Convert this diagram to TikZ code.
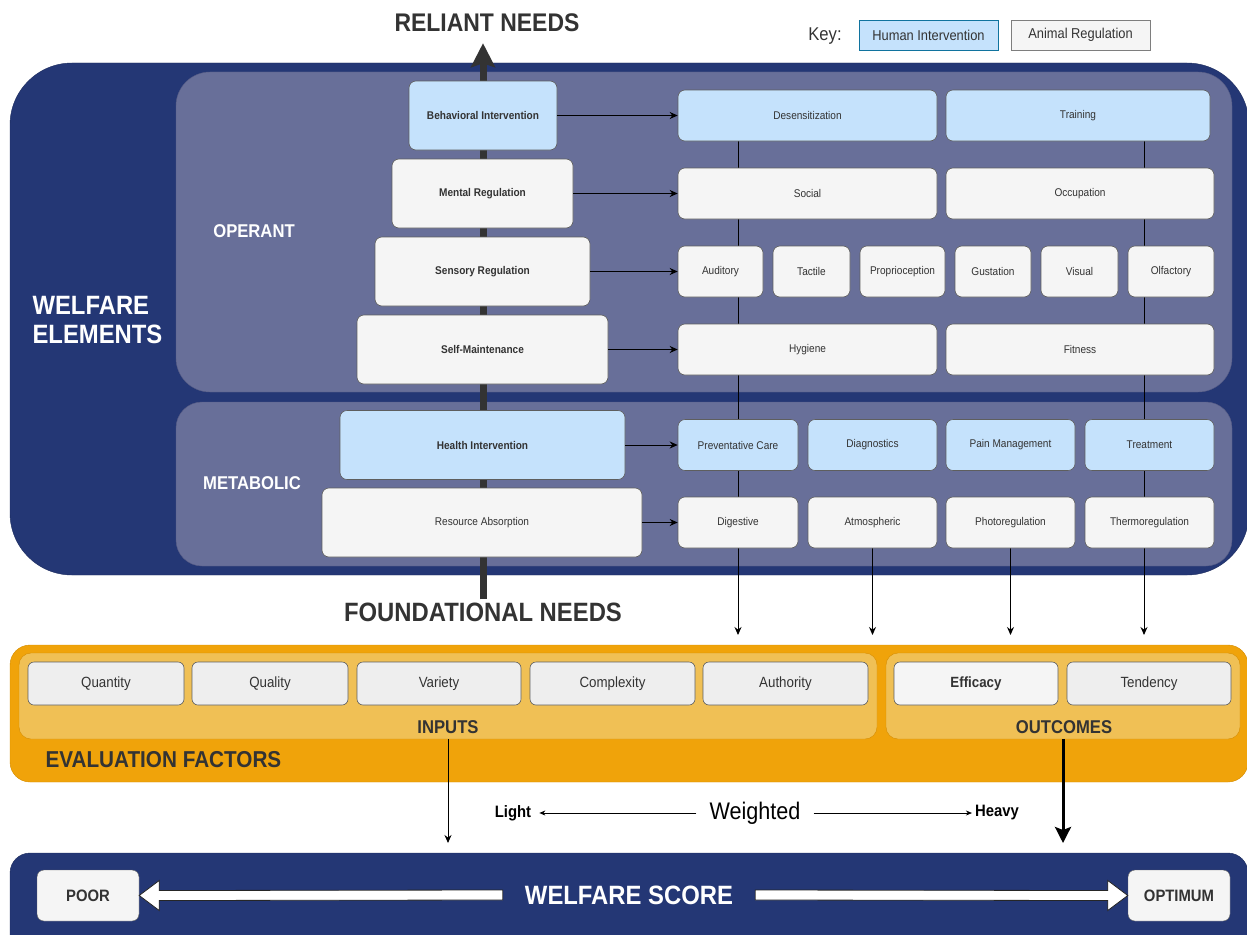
\documentclass[tikz,border=0pt]{standalone}
\usepackage{fontspec}
\setmainfont{Liberation Sans}[FakeStretch=0.9]
\usetikzlibrary{arrows.meta,calc,positioning}
\definecolor{navy}{HTML}{243775}
\definecolor{navyline}{HTML}{1E2D5E}
\definecolor{lavender}{HTML}{686F99}
\definecolor{lavline}{HTML}{565C85}
\definecolor{humanblue}{HTML}{C5E2FC}
\definecolor{animalgray}{HTML}{F5F5F5}
\definecolor{factorgray}{HTML}{EEEEEE}
\definecolor{boxline}{HTML}{5E5E5E}
\definecolor{textgray}{HTML}{333333}
\definecolor{evalorange}{HTML}{F0A30A}
\definecolor{evalline}{HTML}{D48C00}
\definecolor{evalinner}{HTML}{F0C055}
\definecolor{keyline}{HTML}{10739E}
\pgfdeclarelayer{back}
\pgfdeclarelayer{wires}
\pgfsetlayers{back,wires,main}
\newcommand{\fsz}[1]{\fontsize{#1}{#1}\selectfont}
\tikzset{
  elbox/.style={draw=boxline, rounded corners=7pt, line width=0.6pt, text=textgray,
    font=\fsz{11.2}, inner sep=0pt, minimum height=51pt},
  human/.style={elbox, fill=humanblue},
  animal/.style={elbox, fill=animalgray},
  stepel/.style={minimum height=69pt, font=\fsz{11.2}\bfseries},
  factor/.style={elbox, fill=factorgray, rounded corners=6pt, minimum height=43pt,
    font=\fsz{14.8}, minimum width=#1},
  heading/.style={text=textgray, font=\fsz{25.5}\bfseries, inner sep=3pt},
  grouplabel/.style={text=white, font=\fsz{18.5}\bfseries},
  flow/.style={draw=black, line width=1pt, -{Stealth[length=8pt,width=7pt]}},
  needarrow/.style={draw=textgray, line width=7pt, -{Stealth[length=24pt,width=24pt,inset=4pt]}},
  blockarrow/.style={fill=white, draw=black!85, line width=0.8pt},
}
\begin{document}
\begin{tikzpicture}[x=1pt,y=-1pt]
    \useasboundingbox (0,0) rectangle (1247,934);
    \clip (0,0) rectangle (1247,934);
    % containers
    \begin{pgfonlayer}{back}
        \draw[fill=navy, draw=navyline, rounded corners=62pt] (10,63) rectangle (1249,575);
        \draw[fill=lavender, draw=lavline, rounded corners=34pt] (176,72) rectangle (1232,392);
        \draw[fill=lavender, draw=lavline, rounded corners=26pt] (176,402) rectangle (1232,566);
        \draw[fill=evalorange, draw=evalline, rounded corners=20pt] (10,645) rectangle (1248,782);
        \node[fill=evalinner, draw=evalline, rounded corners=12pt, minimum width=858pt,
            minimum height=86pt] (inputs) at (448,696) {};
        \node[fill=evalinner, draw=evalline, rounded corners=12pt, minimum width=354pt,
            minimum height=86pt] (outcomes) at (1063,696) {};
        \draw[fill=navy, draw=navyline, rounded corners=20pt] (10,853) rectangle (1248,960);
    \end{pgfonlayer}
    % titles
    \node[heading] (reliant) at (487,23) {RELIANT NEEDS};
    \node[heading, font=\fsz{26.5}\bfseries] (found) at (483,612) {FOUNDATIONAL NEEDS};
    \node[text=textgray, font=\fsz{18.5}] (key) at (825,36) {Key:};
    \node[draw=keyline, fill=humanblue, text=textgray, font=\fsz{14.3}, minimum width=139pt,
        minimum height=30pt] (keyhuman) at (928.5,35) {Human Intervention};
    \node[draw=boxline!80, fill=animalgray, text=textgray, font=\fsz{14.3}, minimum width=139pt,
        minimum height=30pt] (keyanimal) at (1080.5,35) {Animal Regulation};
    \node[anchor=west, align=left, text=white, font=\fontsize{26.5}{29}\selectfont\bfseries]
        (elements) at (29,320) {WELFARE\\ELEMENTS};
    \node[grouplabel] (operant) at (254,231) {OPERANT};
    \node[grouplabel] (metabolic) at (252,483) {METABOLIC};
    % left column
    \node[human, stepel, minimum width=148pt] (behav) at (483,115.5) {Behavioral Intervention};
    \node[animal, stepel, minimum width=181pt] (mental) at (482.5,193.5) {Mental Regulation};
    \node[animal, stepel, minimum width=215pt] (sensory) at (482.5,271.5) {Sensory Regulation};
    \node[animal, stepel, minimum width=251pt] (selfm) at (482.5,349.5) {Self-Maintenance};
    \node[human, stepel, minimum width=285pt] (health) at (482.5,445) {Health Intervention};
    \node[animal, stepel, minimum width=320pt, font=\fsz{11.2}] (resource) at (482,522.5) {Resource Absorption};
    % operant needs
    \node[human, minimum width=259pt] (desens) at (807.5,115.5) {Desensitization};
    \node[human, minimum width=264pt] (training) at (1078,115.5) {Training};
    \node[animal, minimum width=259pt] (social) at (807.5,193.5) {Social};
    \node[animal, minimum width=268pt] (occup) at (1080,193.5) {Occupation};
    \node[animal, minimum width=85pt] (audit) at (720.5,271.5) {Auditory};
    \node[animal, minimum width=77pt] (tactile) at (811.5,271.5) {Tactile};
    \node[animal, minimum width=85pt] (proprio) at (902.5,271.5) {Proprioception};
    \node[animal, minimum width=76pt] (gustat) at (993,271.5) {Gustation};
    \node[animal, minimum width=77pt] (visual) at (1079.5,271.5) {Visual};
    \node[animal, minimum width=86pt] (olfact) at (1171,271.5) {Olfactory};
    \node[animal, minimum width=259pt] (hygiene) at (807.5,349.5) {Hygiene};
    \node[animal, minimum width=268pt] (fitness) at (1080,349.5) {Fitness};
    % metabolic needs
    \node[human, minimum width=120pt] (prevent) at (738,445) {Preventative Care};
    \node[human, minimum width=129pt] (diagn) at (872.5,445) {Diagnostics};
    \node[human, minimum width=129pt] (pain) at (1010.5,445) {Pain Management};
    \node[human, minimum width=129pt] (treat) at (1149.5,445) {Treatment};
    \node[animal, minimum width=120pt] (digest) at (738,522.5) {Digestive};
    \node[animal, minimum width=129pt] (atmos) at (872.5,522.5) {Atmospheric};
    \node[animal, minimum width=129pt] (photo) at (1010.5,522.5) {Photoregulation};
    \node[animal, minimum width=129pt] (thermo) at (1149.5,522.5) {Thermoregulation};
    % evaluation factors
    \node[factor=156pt] (quantity) at (106,683.5) {Quantity};
    \node[factor=156pt] (quality) at (270,683.5) {Quality};
    \node[factor=164pt] (variety) at (439,683.5) {Variety};
    \node[factor=165pt] (complex) at (612.5,683.5) {Complexity};
    \node[factor=165pt] (authority) at (785.5,683.5) {Authority};
    \node[factor=164pt, fill=animalgray, font=\fsz{14.8}\bfseries] (efficacy) at (976,683.5) {Efficacy};
    \node[factor=164pt] (tendency) at (1149,683.5) {Tendency};
    \node[text=textgray, font=\fsz{18.5}\bfseries] (inlabel) at (448,727) {INPUTS};
    \node[text=textgray, font=\fsz{18.5}\bfseries] (outlabel) at (1064,727) {OUTCOMES};
    \node[anchor=west, text=textgray, font=\fsz{23}\bfseries] (evallabel) at (42,760) {EVALUATION FACTORS};
    % weighting
    \node[font=\fsz{16.5}\bfseries, inner xsep=8pt] (light) at (513,813) {Light};
    \node[font=\fsz{24}, inner xsep=13pt] (weighted) at (755,813) {Weighted};
    \node[font=\fsz{16.5}\bfseries, inner xsep=3pt] (heavy) at (997,813) {Heavy};
    % welfare score
    \node[fill=animalgray, draw=boxline, rounded corners=7pt, minimum width=102pt,
        minimum height=51pt, text=textgray, font=\fsz{16.5}\bfseries] (poor) at (88,895.5) {POOR};
    \node[fill=animalgray, draw=boxline, rounded corners=7pt, minimum width=102pt,
        minimum height=51pt, text=textgray, font=\fsz{16.5}\bfseries] (optimum) at (1179,895.5) {OPTIMUM};
    \node[text=white, font=\fsz{26.5}\bfseries, inner xsep=22pt] (score) at (629,895) {WELFARE SCORE};
    % end points
    \coordinate (evtop) at (0,635);
    \coordinate (rline) at (1144,635);
    \coordinate (inend) at (448,843);
    \coordinate (outend) at (1063,843);
    % connectors
    \begin{pgfonlayer}{wires}
        \draw[needarrow, shorten >=8pt] (found.north) -- (found.north |- reliant.south);
        \draw[flow] (desens.south -| digest) -- (digest.south |- evtop);
        \draw[flow] (training.south -| rline) -- (rline);
        \draw[flow] (atmos.south) -- (atmos.south |- evtop);
        \draw[flow] (photo.south) -- (photo.south |- evtop);
    \end{pgfonlayer}
    \draw[flow] (behav) -- (desens);
    \draw[flow] (mental) -- (social);
    \draw[flow] (sensory) -- (audit);
    \draw[flow] (selfm) -- (hygiene);
    \draw[flow] (health) -- (prevent);
    \draw[flow] (resource) -- (digest);
    \draw[flow] (inputs.south) -- (inend);
    \draw[line width=3pt, -{Stealth[length=16pt,width=16pt,inset=3pt]}] (outcomes.south) -- (outend);
    \draw[line width=0.7pt, -{Stealth[length=6pt,width=5pt]}] (weighted.west) -- (light.east);
    \draw[line width=0.7pt, -{Stealth[length=6pt,width=5pt]}] (weighted.east) -- (heavy.west);
    \draw[blockarrow] ($(score.west)+(0,-5)$) -- ($(poor.east)+(20,-5)$) -- ($(poor.east)+(20,-15)$)
        -- (poor.east) -- ($(poor.east)+(20,15)$) -- ($(poor.east)+(20,5)$) -- ($(score.west)+(0,5)$) -- cycle;
    \draw[blockarrow] ($(score.east)+(0,-5)$) -- ($(optimum.west)+(-20,-5)$) -- ($(optimum.west)+(-20,-15)$)
        -- (optimum.west) -- ($(optimum.west)+(-20,15)$) -- ($(optimum.west)+(-20,5)$) -- ($(score.east)+(0,5)$) -- cycle;
\end{tikzpicture}
\end{document}
